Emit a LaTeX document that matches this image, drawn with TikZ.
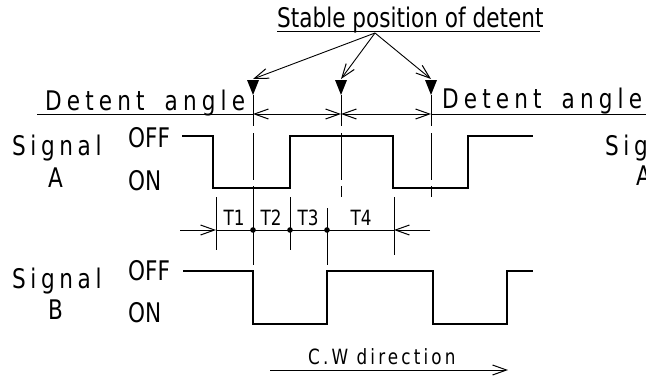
\documentclass[tikz,border=0pt]{standalone}
\usepackage{fontspec}
\usetikzlibrary{arrows.meta}
\newfontfamily\drawfont[FakeStretch=0.8]{DejaVu Sans}
\newcommand\lettering[3]{{\drawfont\fontsize{#1}{#1}\selectfont\addfontfeature{LetterSpace=#2}#3}}

\tikzset{
  wave/.style={line width=1.1pt},
  dimline/.style={line width=0.9pt},
  barb/.style={-{Straight Barb[length=14pt,width=10pt,line width=1pt]}},
  dbarb/.style={{Straight Barb[length=14pt,width=10pt,line width=1pt]}-{Straight Barb[length=14pt,width=10pt,line width=1pt]}},
  detent/.style={line width=0.9pt,dash pattern=on 31pt off 7pt on 47pt off 6pt on 12pt off 100pt},
  lbl/.style={anchor=base west,inner sep=0pt},
  tlbl/.style={anchor=base,inner sep=0pt}
}

\begin{document}
\begin{tikzpicture}[x=1pt,y=-1pt]
\useasboundingbox (0,0) rectangle (646,378);
\clip (0,0) rectangle (646,378);

\node[lbl] (stable) at (277,27) {\lettering{27}{0}{Stable position of detent}};
\draw[dimline] (277,31) -- (540,31);
\coordinate (src) at (375,33);

\node[lbl] (detL) at (45,110) {\lettering{27}{19}{Detent\hspace{20pt}angle}};
\node[lbl] (detR) at (442,108) {\lettering{27}{19}{Detent\hspace{20pt}angle}};
\coordinate (lineL) at (37,114);
\coordinate (lineR) at (646,114);

\foreach \n/\x in {1/253,2/341,3/431} {
  \coordinate (t\n) at (\x,79);
  \coordinate (d\n) at (\x,95);
  \coordinate (m\n) at (\x,114);
  \coordinate (e\n) at (\x,197);
  \draw[dimline,barb] (src) -- (t\n);
  \fill (d\n) ++(-6,-15) -- ++(12,0) -- (d\n) -- cycle;
  \draw[detent] (d\n) -- (e\n);
}
\draw[dimline] (lineL) -- (m1);
\draw[dimline,dbarb] (m1) -- (m2);
\draw[dimline,dbarb] (m2) -- (m3);
\draw[dimline] (m3) -- (lineR);

\node[lbl] (sigA) at (12,155) {\lettering{27}{17}{Signal}};
\node[lbl] (nameA) at (48,187) {\lettering{27}{0}{A}};
\node[lbl] (offA) at (128,147) {\lettering{27}{0}{OFF}};
\node[lbl] (onA) at (128,190) {\lettering{27}{0}{ON}};
\node[lbl] (sigA2) at (605,155) {\lettering{27}{17}{Signal}};
\node[lbl] (nameA2) at (636,185) {\lettering{27}{0}{A}};
\draw[wave] (182,136) -| (213,188) -| (290,136) -| (393,188) -| (468,136) -- (533,136);

\foreach \x/\ya/\yb in {216/197/250,253/190/265,290/197/250,327/208/265,394/197/255}
  \draw[dimline] (\x,\ya) -- (\x,\yb);
\coordinate (inL) at (180,230);
\coordinate (tA) at (216,230);
\coordinate (tB) at (394,230);
\coordinate (inR) at (430,230);
\draw[dimline,barb] (inL) -- (tA);
\draw[dimline] (tA) -- (tB);
\draw[dimline,barb] (inR) -- (tB);
\foreach \x in {253,290,327}
  \fill (\x,230) circle (2.8);
\node[tlbl] (T1) at (234,225) {\lettering{21}{0}{T1}};
\node[tlbl] (T2) at (271,225) {\lettering{21}{0}{T2}};
\node[tlbl] (T3) at (308,225) {\lettering{21}{0}{T3}};
\node[tlbl] (T4) at (361,225) {\lettering{21}{0}{T4}};

\node[lbl] (sigB) at (12,288) {\lettering{27}{17}{Signal}};
\node[lbl] (nameB) at (48,319) {\lettering{27}{0}{B}};
\node[lbl] (offB) at (128,280) {\lettering{27}{0}{OFF}};
\node[lbl] (onB) at (128,322) {\lettering{27}{0}{ON}};
\draw[wave] (183,271) -| (253,324) -| (327,271) -| (433,324) -| (507,271) -- (533,271);

\node[lbl] (cw) at (308,364) {\lettering{21}{15}{C.W direction}};
\coordinate (cwL) at (270,370);
\coordinate (cwR) at (508,370);
\draw[dimline,barb] (cwL) -- (cwR);
\end{tikzpicture}
\end{document}
